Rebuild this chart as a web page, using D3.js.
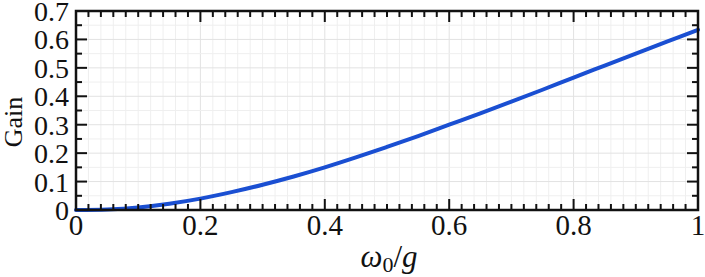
<!DOCTYPE html>
<html><head><meta charset="utf-8">
<script src="https://cdn.jsdelivr.net/npm/d3@7"></script>
<style>
html,body{margin:0;padding:0;background:#fff;}
svg{display:block;}
</style></head>
<body>
<script>
const omegaRatio = [0,0.05,0.1,0.15,0.2,0.25,0.3,0.35,0.4,0.45,0.5,0.55,0.6,0.65,0.7,0.75,0.8,0.85,0.9,0.95,1.0];
const gain =       [0,0.002,0.009,0.022,0.040,0.063,0.089,0.118,0.150,0.185,0.222,0.260,0.300,0.340,0.381,0.423,0.466,0.508,0.550,0.592,0.634];
const xTicks = [0,0.2,0.4,0.6,0.8,1];
const xTickLabels = ["0","0.2","0.4","0.6","0.8","1"];
const yTicks = [0,0.1,0.2,0.3,0.4,0.5,0.6,0.7];
const yTickLabels = ["0","0.1","0.2","0.3","0.4","0.5","0.6","0.7"];

const FONT="'Liberation Serif', 'Times New Roman', Times, serif";
const W=705,H=277;
const m={l:76,r:7,t:11,b:67};
const svg=d3.select("body").append("svg").attr("width",W).attr("height",H)
  .attr("font-family",FONT);
const x=d3.scaleLinear().domain([0,1]).range([m.l,W-m.r]);
const y=d3.scaleLinear().domain([0,0.7]).range([H-m.b,m.t]);
const x0=m.l,x1=W-m.r,y0=H-m.b,y1=m.t;

const xMinor=d3.range(0,1.0001,0.02).map(v=>+v.toFixed(2));
const yMinor=d3.range(0,0.7001,0.05).map(v=>+v.toFixed(2));
const isMajX=v=>Math.abs(v*5-Math.round(v*5))<1e-6;
const isMajY=v=>Math.abs(v*10-Math.round(v*10))<1e-6;

// grid
const g=svg.append("g");
g.selectAll("line.gx").data(xMinor).join("line")
 .attr("x1",d=>x(d)).attr("x2",d=>x(d)).attr("y1",y0).attr("y2",y1)
 .attr("stroke",d=>isMajX(d)?"#e2e2e2":"#efefef").attr("stroke-width",1);
g.selectAll("line.gy").data(yMinor).join("line")
 .attr("y1",d=>y(d)).attr("y2",d=>y(d)).attr("x1",x0).attr("x2",x1)
 .attr("stroke",d=>isMajY(d)?"#e2e2e2":"#efefef").attr("stroke-width",1);

// curve
const line=d3.line().x((d,i)=>x(omegaRatio[i])).y(d=>y(d)).curve(d3.curveCatmullRom.alpha(0.5));
svg.append("path").datum(gain).attr("d",line).attr("fill","none")
 .attr("stroke","#1a4fd2").attr("stroke-width",4).attr("stroke-linecap","round");

// ticks (inward, all four sides)
const tk=svg.append("g").attr("stroke","#111").attr("stroke-width",2);
xMinor.filter(v=>v>0&&v<1).forEach(v=>{
  const L=isMajX(v)?11:6;
  tk.append("line").attr("x1",x(v)).attr("x2",x(v)).attr("y1",y0).attr("y2",y0-L);
  tk.append("line").attr("x1",x(v)).attr("x2",x(v)).attr("y1",y1).attr("y2",y1+L);
});
yMinor.filter(v=>v>0&&v<0.7).forEach(v=>{
  const L=isMajY(v)?11:6;
  tk.append("line").attr("y1",y(v)).attr("y2",y(v)).attr("x1",x0).attr("x2",x0+L);
  tk.append("line").attr("y1",y(v)).attr("y2",y(v)).attr("x1",x1).attr("x2",x1-L);
});
svg.append("rect").attr("x",x0).attr("y",y1).attr("width",x1-x0).attr("height",y0-y1)
 .attr("fill","none").attr("stroke","#111").attr("stroke-width",2.5);

// tick labels
svg.selectAll("text.xt").data(xTicks).join("text")
 .attr("x",d=>x(d)).attr("y",y0+25).attr("text-anchor","middle")
 .attr("font-size",29).attr("fill","#111").text((d,i)=>xTickLabels[i]);
svg.selectAll("text.yt").data(yTicks).join("text")
 .attr("x",x0-7).attr("y",d=>y(d)+10).attr("text-anchor","end")
 .attr("font-size",28).attr("fill","#111").text((d,i)=>yTickLabels[i]);

// axis titles
svg.append("text").attr("transform","translate(22,122) rotate(-90)")
 .attr("text-anchor","middle").attr("font-size",26).attr("fill","#111").text("Gain");
const xt=svg.append("text").attr("x",389).attr("y",267).attr("text-anchor","middle")
 .attr("font-size",31).attr("fill","#111");
xt.append("tspan").attr("font-style","italic").text("ω");
xt.append("tspan").attr("font-size",22).attr("dy",5).text("0");
xt.append("tspan").attr("dy",-5).text("/");
xt.append("tspan").attr("font-style","italic").text("g");
</script>
</body></html>
